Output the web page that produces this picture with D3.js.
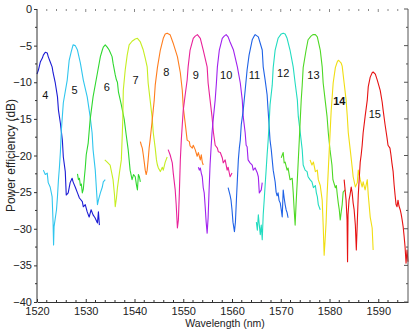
<!DOCTYPE html>
<html><head><meta charset="utf-8">
<script src="https://cdn.jsdelivr.net/npm/d3@7/dist/d3.min.js"></script>
<style>body{margin:0;background:#fff}svg{display:block;font-family:"Liberation Sans",Arial,sans-serif}</style>
</head><body><svg id="c" width="414" height="330"></svg>
<script>
// channel names and colours
const channels = ["4","5","6","7","8","9","10","11","12","13","14","15"];
const colors = ["#1c1cd4","#30c6ee","#2fd82f","#c6ee22","#ff7d1e","#e8229a","#a022ee","#1f62e6","#22dcc0","#4ed824","#f0de12","#e61212"];
// [wavelength nm, efficiency dB]
const ch4 = [[1520.0,-8.9],[1520.3,-8.3],[1520.7,-7.2],[1521.1,-6.7],[1521.3,-6.3],[1521.7,-5.9],[1522.1,-6.0],[1522.3,-6.5],[1522.7,-7.2],[1523.1,-7.9],[1523.3,-8.7],[1523.75,-10.1],[1524.2,-12.0],[1524.4,-13.8],[1524.8,-15.6],[1525.2,-17.9],[1525.4,-20.2],[1525.8,-22.2],[1526.0,-25.4],[1526.4,-25.1],[1526.8,-23.7],[1527.2,-23.1],[1527.4,-23.6],[1527.9,-24.4],[1528.3,-25.1],[1528.7,-25.8],[1529.3,-26.3],[1529.5,-27.0],[1529.9,-26.7],[1530.3,-27.7],[1530.7,-28.4],[1531.1,-27.4],[1531.5,-28.1],[1531.9,-28.5],[1532.4,-29.2],[1532.6,-27.7],[1532.8,-29.5]];
const ch5 = [[1521.3,-22.0],[1521.7,-22.6],[1522.1,-22.4],[1522.3,-23.7],[1522.7,-24.3],[1523.1,-25.6],[1523.3,-29.2],[1523.4,-32.2],[1523.5,-29.7],[1524.0,-27.4],[1524.2,-25.6],[1524.4,-23.3],[1524.6,-21.6],[1524.8,-19.5],[1525.0,-16.5],[1525.4,-12.8],[1526.2,-9.7],[1526.6,-7.0],[1527.0,-5.9],[1527.4,-4.9],[1527.85,-5.0],[1528.3,-5.6],[1528.9,-7.4],[1529.5,-9.7],[1530.3,-12.0],[1530.9,-14.7],[1531.3,-16.9],[1531.5,-19.2],[1531.95,-22.0],[1532.2,-24.7],[1532.4,-26.7],[1532.6,-26.1],[1533.0,-25.1],[1533.4,-24.3],[1533.6,-23.6],[1534.0,-23.3]];
const ch6 = [[1528.3,-22.5],[1528.5,-23.3],[1528.7,-23.1],[1528.9,-24.1],[1529.1,-23.9],[1529.3,-25.1],[1529.5,-24.6],[1529.7,-23.1],[1529.9,-21.7],[1530.1,-19.9],[1530.5,-18.3],[1530.9,-15.1],[1531.5,-12.0],[1532.4,-8.7],[1533.0,-6.5],[1533.4,-5.6],[1533.6,-5.2],[1534.0,-4.9],[1534.4,-5.2],[1534.8,-5.6],[1535.4,-6.5],[1535.6,-7.4],[1536.05,-9.0],[1536.3,-9.7],[1536.5,-10.0],[1536.7,-11.3],[1537.3,-13.1],[1537.9,-15.1],[1538.3,-17.2],[1538.7,-19.2],[1538.9,-20.6],[1539.1,-22.0],[1539.5,-23.3],[1539.8,-22.6],[1540.15,-22.9],[1540.4,-24.0],[1540.6,-24.7],[1540.8,-22.6],[1541.0,-22.9],[1541.2,-23.6]];
const ch7 = [[1533.9,-20.6],[1534.4,-20.9],[1535.0,-21.3],[1535.4,-22.6],[1535.6,-23.3],[1535.9,-25.4],[1536.05,-27.0],[1536.3,-25.8],[1536.5,-24.4],[1536.9,-22.4],[1537.3,-20.6],[1537.5,-17.0],[1537.6,-15.1],[1537.7,-11.1],[1538.1,-8.3],[1538.5,-6.3],[1538.9,-4.9],[1539.5,-4.4],[1540.15,-4.1],[1540.6,-4.0],[1541.2,-4.5],[1541.8,-5.6],[1542.2,-6.7],[1542.6,-7.9],[1542.8,-10.1],[1543.2,-12.4],[1543.6,-14.7],[1543.85,-16.9],[1544.25,-19.0],[1544.5,-20.6],[1544.7,-21.3],[1544.9,-21.7],[1545.3,-22.2],[1545.7,-21.6],[1545.9,-22.0],[1546.3,-20.9],[1546.7,-20.2]];
const ch8 = [[1541.2,-18.1],[1541.4,-18.6],[1541.6,-19.0],[1541.8,-19.9],[1542.0,-20.9],[1542.2,-22.0],[1542.4,-22.6],[1542.6,-22.0],[1542.8,-20.6],[1543.0,-19.0],[1543.2,-17.9],[1543.6,-15.4],[1544.05,-12.4],[1544.25,-10.4],[1544.7,-8.0],[1545.3,-5.6],[1545.9,-4.0],[1546.3,-3.4],[1546.7,-3.3],[1547.3,-3.5],[1547.9,-4.6],[1548.8,-6.5],[1549.4,-8.7],[1549.8,-11.1],[1550.0,-13.4],[1550.4,-15.6],[1550.8,-17.9],[1551.25,-18.1],[1551.4,-18.7],[1551.85,-19.0],[1552.05,-18.6],[1552.45,-19.2],[1552.85,-20.1],[1553.1,-19.6],[1553.5,-20.6],[1553.7,-19.9],[1553.9,-20.9],[1554.1,-21.3]];
const ch9 = [[1546.9,-19.2],[1547.3,-19.9],[1547.75,-21.0],[1547.95,-22.4],[1548.35,-24.7],[1548.55,-26.7],[1548.8,-29.9],[1549.0,-28.8],[1549.2,-25.1],[1549.4,-20.6],[1549.6,-17.9],[1549.8,-15.8],[1550.0,-13.8],[1550.4,-11.7],[1550.8,-9.7],[1551.0,-7.9],[1551.4,-5.6],[1552.05,-4.0],[1552.45,-3.7],[1552.9,-3.5],[1553.5,-4.0],[1554.1,-5.6],[1554.9,-7.9],[1555.1,-10.1],[1555.5,-12.4],[1555.9,-14.7],[1556.2,-16.9],[1556.55,-18.6],[1557.0,-19.0],[1557.2,-19.5],[1557.6,-19.6],[1558.0,-20.3],[1558.2,-21.0],[1558.6,-20.6],[1559.0,-22.0],[1559.2,-21.6],[1559.6,-22.9],[1560.0,-22.4]];
const ch10 = [[1553.1,-21.6],[1553.3,-22.0],[1553.5,-21.7],[1553.7,-22.4],[1553.9,-22.9],[1554.1,-24.4],[1554.3,-25.1],[1554.5,-27.0],[1554.7,-29.1],[1554.9,-30.6],[1555.1,-28.5],[1555.3,-24.7],[1555.5,-21.3],[1555.7,-19.0],[1555.9,-16.9],[1556.2,-14.7],[1556.55,-12.4],[1556.8,-10.1],[1557.0,-7.9],[1557.4,-5.6],[1558.0,-4.0],[1558.4,-3.7],[1558.8,-3.5],[1559.2,-3.8],[1559.6,-4.5],[1560.3,-5.6],[1561.1,-7.9],[1561.7,-10.1],[1562.1,-12.4],[1562.3,-14.7],[1562.7,-16.9],[1562.9,-18.6],[1563.1,-18.8],[1563.3,-20.6],[1563.7,-21.0],[1564.15,-21.3],[1564.35,-22.0],[1564.75,-21.7],[1565.2,-22.4],[1565.4,-22.9],[1565.6,-25.1],[1566.0,-24.7],[1566.2,-23.7]];
const ch11 = [[1559.2,-24.4],[1559.6,-25.4],[1559.8,-26.1],[1560.0,-27.4],[1560.2,-29.1],[1560.5,-30.4],[1560.7,-29.1],[1560.9,-26.1],[1561.1,-23.3],[1561.3,-20.6],[1561.5,-19.0],[1561.7,-17.9],[1561.9,-15.8],[1562.3,-13.8],[1562.7,-11.1],[1563.1,-8.3],[1563.5,-6.3],[1564.15,-4.2],[1564.55,-3.7],[1564.75,-3.5],[1565.4,-3.8],[1566.2,-5.6],[1566.4,-7.9],[1566.8,-9.7],[1567.2,-11.7],[1567.4,-13.8],[1567.6,-15.8],[1567.8,-17.9],[1568.05,-19.2],[1568.25,-20.6],[1568.45,-22.0],[1568.85,-23.6],[1569.05,-25.0],[1569.25,-25.5],[1569.45,-25.1],[1569.65,-26.1],[1569.9,-26.5],[1570.1,-27.4],[1570.3,-28.4],[1570.5,-24.7],[1570.7,-25.8],[1570.9,-26.7],[1571.1,-27.4],[1571.3,-27.8],[1571.5,-28.5]];
const ch12 = [[1565.0,-29.1],[1565.2,-30.2],[1565.4,-28.1],[1565.6,-29.5],[1565.8,-30.8],[1566.0,-29.5],[1566.2,-31.5],[1566.4,-28.1],[1566.6,-26.1],[1566.8,-24.0],[1567.0,-22.0],[1567.2,-19.9],[1567.4,-18.1],[1567.6,-15.8],[1567.8,-13.1],[1568.25,-10.4],[1568.45,-8.0],[1568.85,-5.6],[1569.45,-4.0],[1570.1,-3.4],[1570.5,-3.3],[1570.9,-3.4],[1571.3,-4.0],[1571.9,-5.6],[1572.55,-7.9],[1572.95,-10.1],[1573.4,-12.4],[1573.6,-14.7],[1574.0,-16.9],[1574.4,-19.2],[1574.6,-21.3],[1575.0,-22.0],[1575.4,-22.2],[1575.6,-22.9],[1576.0,-23.3],[1576.4,-23.6],[1576.7,-24.4],[1577.1,-24.1],[1577.3,-25.1],[1577.5,-25.6],[1577.7,-26.7],[1578.1,-27.4]];
const ch13 = [[1570.1,-20.3],[1570.5,-19.6],[1570.7,-21.0],[1570.9,-20.9],[1571.3,-22.0],[1571.5,-21.7],[1571.9,-23.3],[1572.35,-23.1],[1572.55,-25.0],[1572.75,-27.4],[1572.95,-29.5],[1573.15,-26.5],[1573.4,-23.3],[1573.6,-20.6],[1573.8,-17.9],[1574.0,-15.1],[1574.2,-12.4],[1574.4,-10.4],[1574.6,-8.0],[1575.2,-5.6],[1575.6,-4.2],[1576.2,-3.7],[1576.6,-3.5],[1577.1,-3.5],[1577.5,-3.8],[1578.1,-5.6],[1578.5,-7.9],[1578.7,-10.1],[1579.1,-12.4],[1579.5,-14.7],[1579.75,-16.9],[1580.1,-19.2],[1580.5,-21.3],[1580.7,-23.3],[1581.2,-24.4],[1581.4,-24.1],[1581.6,-25.4],[1581.8,-26.5],[1582.0,-27.4],[1582.2,-28.8],[1582.4,-27.7],[1582.6,-26.7],[1582.8,-25.0],[1583.2,-24.7]];
const ch14 = [[1576.0,-20.6],[1576.4,-21.3],[1576.7,-20.9],[1577.1,-22.2],[1577.5,-22.0],[1577.7,-23.3],[1578.1,-24.1],[1578.5,-26.1],[1578.7,-29.5],[1578.9,-33.6],[1579.1,-31.5],[1579.3,-29.1],[1579.5,-25.4],[1579.75,-22.0],[1579.95,-19.2],[1580.15,-16.5],[1580.35,-13.8],[1580.55,-12.0],[1580.75,-10.1],[1581.2,-8.0],[1581.6,-7.2],[1581.8,-7.0],[1582.0,-7.1],[1582.4,-7.4],[1582.6,-7.8],[1583.0,-10.1],[1583.4,-12.4],[1583.65,-14.7],[1583.85,-16.9],[1584.25,-19.2],[1584.65,-21.6],[1584.85,-22.9],[1585.3,-24.3],[1585.7,-23.7],[1585.9,-22.0],[1586.3,-23.3],[1586.7,-24.3],[1586.9,-23.6],[1587.3,-24.7],[1587.75,-23.3],[1587.95,-25.4],[1588.35,-28.4],[1588.75,-29.9],[1588.95,-32.9]];
const ch15 = [[1583.0,-23.3],[1583.2,-24.7],[1583.4,-26.1],[1583.6,-28.8],[1583.7,-34.5],[1583.8,-28.1],[1584.0,-26.1],[1584.2,-25.4],[1584.45,-24.3],[1584.65,-25.1],[1584.85,-26.5],[1585.05,-27.4],[1585.3,-29.5],[1585.5,-32.9],[1585.7,-29.1],[1585.9,-25.4],[1586.1,-23.1],[1586.3,-20.9],[1586.5,-19.9],[1586.7,-18.6],[1586.9,-16.9],[1587.3,-14.7],[1587.75,-12.4],[1587.95,-10.6],[1588.35,-9.3],[1588.75,-8.7],[1588.95,-8.6],[1589.4,-8.9],[1589.8,-9.7],[1590.4,-11.1],[1590.8,-12.7],[1591.0,-13.8],[1591.4,-15.8],[1591.8,-17.6],[1592.0,-18.6],[1592.4,-19.0],[1592.6,-19.9],[1592.8,-21.0],[1593.05,-22.2],[1593.25,-24.0],[1593.45,-25.4],[1593.65,-26.7],[1593.85,-27.0],[1594.05,-26.1],[1594.25,-26.9],[1594.5,-27.4],[1594.7,-28.0],[1594.9,-28.8],[1595.1,-29.7],[1595.3,-31.0],[1595.5,-32.5],[1595.7,-34.7],[1595.9,-32.9],[1596.1,-34.5]];
const series = [ch4,ch5,ch6,ch7,ch8,ch9,ch10,ch11,ch12,ch13,ch14,ch15];
// channel label anchors
const labelWl = [1521.7,1527.7,1534.3,1540.2,1546.5,1552.6,1558.8,1564.6,1570.5,1576.7,1582.0,1589.3];
const labelDb = [-11.7,-11.0,-10.7,-9.7,-8.6,-9.0,-9.0,-9.0,-8.7,-9.0,-12.6,-14.3];
const xTicks = [1520,1530,1540,1550,1560,1570,1580,1590];
const yTicks = [0,-5,-10,-15,-20,-25,-30,-35,-40];

const svg = d3.select("#c");
const L = 37, R = 408, T = 9, B = 302;
const x = d3.scaleLinear().domain([1520, 1596.1]).range([L, R]);
const y = d3.scaleLinear().domain([-40, 0]).range([B, T]);

const g = svg.append("g");
const line = d3.line().x(d => x(d[0])).y(d => y(d[1]));
series.forEach((s, i) => {
  g.append("path").attr("d", line(s)).attr("fill", "none")
   .attr("stroke", colors[i]).attr("stroke-width", 1.1).attr("stroke-linejoin", "round");
});
channels.forEach((c, i) => {
  g.append("text").attr("x", x(labelWl[i])).attr("y", y(labelDb[i]))
   .attr("text-anchor", "middle").attr("dominant-baseline", "central")
   .attr("font-size", 11).attr("font-weight", c === "14" ? "bold" : "normal")
   .attr("fill", "#111").text(c);
});

// left axis
const yAxis = d3.axisLeft(y).tickValues(yTicks).tickSize(3).tickPadding(2);
const ga = svg.append("g").attr("transform", `translate(${L},0)`).call(yAxis);
ga.select(".domain").attr("stroke", "#333").attr("d", `M0,${B}V${T}`);
ga.selectAll(".tick line").attr("stroke", "#333");
ga.selectAll("text").attr("font-size", 11).attr("fill", "#222").attr("font-family", "Liberation Sans, Arial, sans-serif");
const yMinor = d3.range(-37.5, 0, 5);
svg.append("g").selectAll("line").data(yMinor).join("line")
  .attr("x1", L - 2).attr("x2", L).attr("y1", d => y(d)).attr("y2", d => y(d)).attr("stroke", "#333");

// bottom axis
const xAxis = d3.axisBottom(x).tickValues(xTicks).tickFormat(d3.format("d")).tickSizeInner(-3).tickSizeOuter(0).tickPadding(5);
const gb = svg.append("g").attr("transform", `translate(0,${B})`).call(xAxis);
gb.select(".domain").attr("stroke", "#333");
gb.selectAll(".tick line").attr("stroke", "#333");
gb.selectAll("text").attr("font-size", 11).attr("fill", "#222").attr("font-family", "Liberation Sans, Arial, sans-serif");
const xMinor = d3.range(1522, 1596, 2).filter(v => v % 10 !== 0);
svg.append("g").selectAll("line").data(xMinor).join("line")
  .attr("x1", d => x(d)).attr("x2", d => x(d)).attr("y1", B).attr("y2", B - 2).attr("stroke", "#333");

// right frame with inward ticks
svg.append("line").attr("x1", R).attr("x2", R).attr("y1", T).attr("y2", B).attr("stroke", "#555");
svg.append("g").selectAll("line").data(yTicks.concat(yMinor)).join("line")
  .attr("x1", d => R - (d % 5 === 0 ? 4 : 2)).attr("x2", R).attr("y1", d => y(d)).attr("y2", d => y(d)).attr("stroke", "#555");
// top ticks (no line)
svg.append("g").selectAll("line").data(xTicks.slice(1).concat(xMinor)).join("line")
  .attr("x1", d => x(d)).attr("x2", d => x(d)).attr("y1", T).attr("y2", d => T + (d % 10 === 0 ? 3 : 2)).attr("stroke", "#888");

// axis titles
svg.append("text").attr("transform", `translate(11,${(T + B) / 2}) rotate(-90)`)
  .attr("text-anchor", "middle").attr("dominant-baseline", "central").attr("font-size", 12).attr("fill", "#222")
  .text("Power efficiency (dB)");
svg.append("text").attr("x", 225).attr("y", 327).attr("text-anchor", "middle")
  .attr("font-size", 10.5).attr("fill", "#222").text("Wavelength (nm)");
</script></body></html>
